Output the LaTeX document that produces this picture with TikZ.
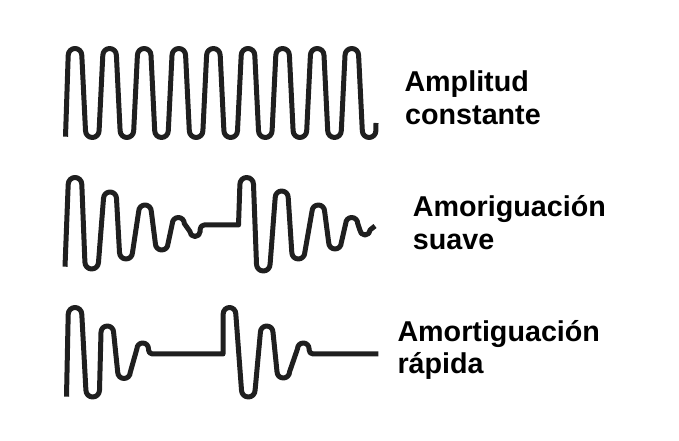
\documentclass[tikz,border=0pt]{standalone}
\usepackage{fontspec}
\setmainfont{Liberation Sans}
\begin{document}
\begin{tikzpicture}[x=1pt,y=1pt,
  wave/.style={line width=5pt, draw=black!88, line join=round, line cap=butt},
  lbl/.style={anchor=base west, inner sep=0pt, font=\fontsize{28.7}{33}\selectfont\bfseries}]
\useasboundingbox (0,0) rectangle (679,441);
% --- wave 1: constant amplitude
\draw[wave] (65.5,304.3)
  \foreach \i in {0,...,8} {
    -- ({75+34.6*\i-6.8},385.7) arc[start angle=180, end angle=0, radius=6.8]
    -- ({92.3+34.6*\i-6.8},310.3) arc[start angle=180, end angle=360, radius=6.8]
  } -- (376,318);
% --- wave 2: smooth damping
\draw[wave] (65,174.3)
  \foreach \c/\t/\r/\s in {75/263.5/6.8/1, 91.7/172/6.8/-1, 110/249/6.5/1, 126/182/6.5/-1,
                          145/236/6.3/1, 161.7/191/6.3/-1, 178.3/223.5/6/1, 195/204.5/5.2/-1} {
    -- ({\c-\r},{\t-\s*\r}) arc[start angle=180, delta angle={-180*\s}, radius=\r]
  }
  -- (200.2,212) arc[start angle=180, end angle=90, radius=4] -- (238.5,216)
  \foreach \c/\t/\r/\s in {246.7/263.5/6.8/1, 263.3/170/6.8/-1, 281.7/250/6.5/1, 298.3/182/6.5/-1,
                          318.3/236/6.3/1, 335/192/6.3/-1, 351.7/223.5/6/1, 365/206/5.2/-1} {
    -- ({\c-\r},{\t-\s*\r}) arc[start angle=180, delta angle={-180*\s}, radius=\r]
  }
  -- (375,215);
% --- wave 3: fast damping
\draw[wave] (66.5,44.3)
  \foreach \c/\t/\r/\s in {75/133.5/6.8/1, 92.7/44/6.8/-1, 107.3/115/6.3/1, 124/62.5/6.3/-1, 142.7/98/5.8/1} {
    -- ({\c-\r},{\t-\s*\r}) arc[start angle=180, delta angle={-180*\s}, radius=\r]
  }
  -- (148.5,91) arc[start angle=180, end angle=270, radius=4] -- (223,87)
  \foreach \c/\t/\r/\s in {229.5/133.5/6.3/1, 248.3/44/6.8/-1, 266.7/115/6.3/1, 283.3/63/6.3/-1, 303.3/98/5.8/1} {
    -- ({\c-\r},{\t-\s*\r}) arc[start angle=180, delta angle={-180*\s}, radius=\r]
  }
  -- (309.1,91) arc[start angle=180, end angle=270, radius=4] -- (378.3,87);
% --- labels
\node[lbl] (l1a) at (404.3,349.3) {Amplitud};
\node[lbl] (l1b) at (405,316) {constante};
\node[lbl] (l2a) at (412.7,224.3) {Amoriguación};
\node[lbl] (l2b) at (412.7,191) {suave};
\node[lbl] (l3a) at (397.3,99.3) {Amortiguación};
\node[lbl] (l3b) at (397.3,67.7) {rápida};
\end{tikzpicture}
\end{document}
